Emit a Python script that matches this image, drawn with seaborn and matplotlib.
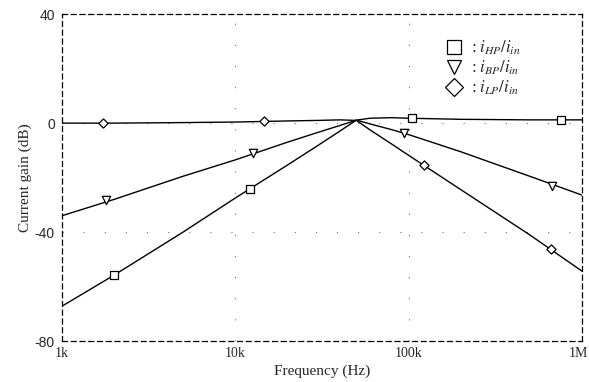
import numpy as np
import pandas as pd
import matplotlib
matplotlib.use("Agg")
import matplotlib.pyplot as plt
import matplotlib.transforms as mtransforms
import seaborn as sns
from matplotlib.lines import Line2D

# curve data (Hz, dB)
freq = [1e3, 2e3, 5e3, 1e4, 2e4, 3e4, 4e4, 5e4, 6e4, 8e4, 1e5, 2e5, 5e5, 1e6]
hp_db = [-67.2, -55.8, -40.0, -27.5, -15.4, -8.2, -3.0, 1.1, 1.8, 2.0, 1.8, 1.4, 1.2, 1.2]
bp_db = [-34.0, -28.0, -19.5, -13.5, -7.0, -3.4, -0.9, 1.1, -0.3, -2.4, -4.2, -10.5, -19.5, -26.4]
lp_db = [0.0, 0.0, 0.2, 0.4, 0.8, 1.0, 1.2, 1.0, -2.5, -7.7, -11.8, -24.4, -41.0, -54.3]

# marker positions
hp_mk_f = [2.0e3, 12.2e3, 104e3, 757e3]
hp_mk_db = [-55.8, -24.2, 1.8, 1.1]
bp_mk_f = [1.79e3, 12.6e3, 94e3, 671e3]
bp_mk_db = [-28.3, -11.0, -3.7, -23.1]
lp_mk_f = [1.72e3, 14.6e3, 122e3, 663e3]
lp_mk_db = [0.0, 0.7, -15.4, -46.2]

x_ticks = [1e3, 1e4, 1e5, 1e6]
x_labels = ["1k", "10k", "100k", "1M"]
y_ticks = [-80, -40, 0, 40]

sns.set_style("white")
plt.rcParams["font.family"] = ["Liberation Serif", "DejaVu Serif"]
plt.rcParams["mathtext.fontset"] = "stix"

fig = plt.figure(figsize=(5.89, 3.82), dpi=100)
ax = fig.add_axes([0.105, 0.107, 0.883, 0.856])

# sparse dotted grid
for xv in [1e4, 1e5]:
    ax.axvline(xv, color="0.45", lw=0.8, ls=(0, (1, 18)), zorder=0)
for yv in [-40, 0]:
    ax.axhline(yv, color="0.45", lw=0.8, ls=(0, (1, 18)), zorder=0)

for vals in [hp_db, bp_db, lp_db]:
    sns.lineplot(x=freq, y=vals, ax=ax, color="black", lw=1.0, zorder=2)

mk = dict(facecolor="white", edgecolor="black", linewidth=0.9, zorder=3)
sns.scatterplot(x=hp_mk_f, y=hp_mk_db, ax=ax, marker="s", s=26, **mk)
sns.scatterplot(x=bp_mk_f, y=bp_mk_db, ax=ax, marker="v", s=36, **mk)
sns.scatterplot(x=lp_mk_f, y=lp_mk_db, ax=ax, marker="D", s=22, **mk)

ax.set_xscale("log")
ax.set_xlim(1e3, 1e6)
ax.set_ylim(-80, 40)
ax.set_xticks(x_ticks)
ax.set_xticklabels(x_labels)
ax.minorticks_off()
ax.set_yticks(y_ticks)
ax.set_yticklabels([str(v) for v in y_ticks], family="Liberation Sans", fontsize=10)
ax.tick_params(axis="x", direction="inout", length=5, width=0.8, labelsize=10, pad=2)
ax.tick_params(axis="y", direction="inout", length=6, width=0.8, pad=2)

# keep "1M" inside the figure
last = ax.get_xticklabels()[-1]
last.set_transform(last.get_transform() + mtransforms.ScaledTranslation(-4 / 100, 0, fig.dpi_scale_trans))

for sp in ax.spines.values():
    sp.set_visible(True)
    sp.set_color("black")
    sp.set_linewidth(0.9)
    sp.set_linestyle((0, (4, 3)))

ax.set_xlabel("Frequency (Hz)", fontsize=11, labelpad=3)
ax.set_ylabel("Current gain (dB)", fontsize=11, labelpad=2)

handles = [
    Line2D([], [], ls="none", marker="s", ms=10, mfc="white", mec="black", mew=0.9),
    Line2D([], [], ls="none", marker="v", ms=10, mfc="white", mec="black", mew=0.9),
    Line2D([], [], ls="none", marker="D", ms=9, mfc="white", mec="black", mew=0.9),
]
labels = [r": $i_{HP}/i_{in}$", r": $i_{BP}/i_{in}$", r": $i_{LP}/i_{in}$"]
ax.legend(handles, labels, loc="upper left", bbox_to_anchor=(0.725, 0.945),
          frameon=False, fontsize=12, handletextpad=0.5, labelspacing=0.1,
          borderaxespad=0, handlelength=1.0)

fig.savefig("out.png", dpi=100)
